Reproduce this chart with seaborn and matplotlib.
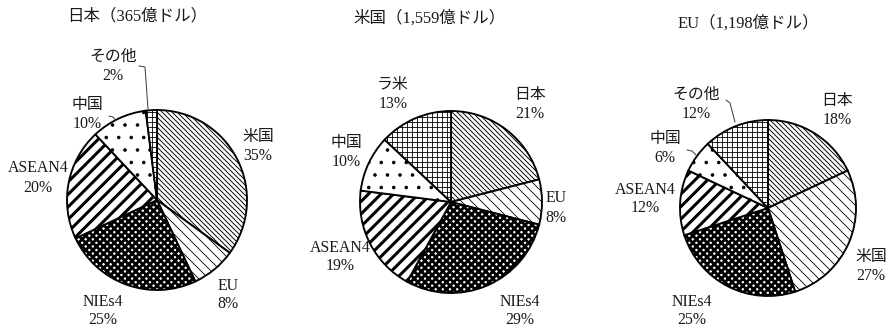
import matplotlib
matplotlib.use("Agg")
import matplotlib.pyplot as plt
import seaborn as sns

# ---------------- data ----------------
titles = ["日本（365億ドル）", "米国（1,559億ドル）", "EU（1,198億ドル）"]

jp_labels = ["米国", "EU", "NIEs4", "ASEAN4", "中国", "その他"]
jp_values = [35, 8, 25, 20, 10, 2]

us_labels = ["日本", "EU", "NIEs4", "ASEAN4", "中国", "ラ米"]
us_values = [21, 8, 29, 19, 10, 13]

eu_labels = ["日本", "米国", "NIEs4", "ASEAN4", "中国", "その他"]
eu_values = [18, 27, 25, 12, 6, 12]

# ---------------- style / layout ----------------
sns.set_theme(style="white")
FONT = ["Liberation Serif", "Noto Sans CJK JP", "DejaVu Sans"]
plt.rcParams["font.family"] = FONT

W, H, DPI = 887, 331, 150
fig = plt.figure(figsize=(W / DPI, H / DPI), dpi=DPI)
ax = fig.add_axes([0, 0, 1, 1])

# hatch per slice position (same order in every pie)
hatches = ["\\" * 10, "\\" * 5, "x" * 7, "/" * 4, "..", "+" * 5]
hatch_lw = [0.45, 0.4, 1.35, 1.45, 0.5, 0.4]

centers = [(157, H - 200), (451, H - 202), (768, H - 208)]
radii = [90, 91, 88]
title_pos = [(137, 16), (430, 18), (748, 23)]
label_pos = [
    [(258, 146), (228, 295), (103, 311), (38, 178), (87, 114), (113, 66)],
    [(530, 105), (556, 208), (520, 311), (340, 257), (346, 153), (393, 95)],
    [(837, 110), (871, 266), (692, 311), (645, 199), (665, 148), (696, 104)],
]
leaders = [
    [[(139, 66), (145, 67), (148, 109)], [(109, 116), (113, 117), (116, 121)]],
    [],
    [[(726, 100), (730, 103), (735, 122)], [(687, 150), (692, 151), (696, 155)]],
]

series = [(jp_labels, jp_values), (us_labels, us_values), (eu_labels, eu_values)]

for i, (labels, values) in enumerate(series):
    wedges, _ = ax.pie(
        values,
        center=centers[i],
        radius=radii[i],
        startangle=90,
        counterclock=False,
        colors=["white"] * len(values),
        hatch=hatches[: len(values)],
        wedgeprops=dict(edgecolor="black", linewidth=0.9),
    )
    for w, lw in zip(wedges, hatch_lw):
        if hasattr(w, "set_hatch_linewidth"):
            w.set_hatch_linewidth(lw)
    for (lab, val), (px, py) in zip(zip(labels, values), label_pos[i]):
        ax.text(px, H - py, f"{lab}\n{val}%", ha="center", va="center",
                fontsize=7.6, linespacing=1.25, color="#1a1a1a", family=FONT)
    tx, ty = title_pos[i]
    ax.text(tx, H - ty, titles[i], ha="center", va="center", fontsize=7.9,
            color="#1a1a1a", family=FONT)
    for line in leaders[i]:
        xs = [p[0] for p in line]
        ys = [H - p[1] for p in line]
        ax.plot(xs, ys, color="#444444", linewidth=0.5)

ax.set_xlim(0, W)
ax.set_ylim(0, H)
ax.set_aspect("equal")
ax.axis("off")
fig.savefig("out.png", dpi=DPI, facecolor="white")
